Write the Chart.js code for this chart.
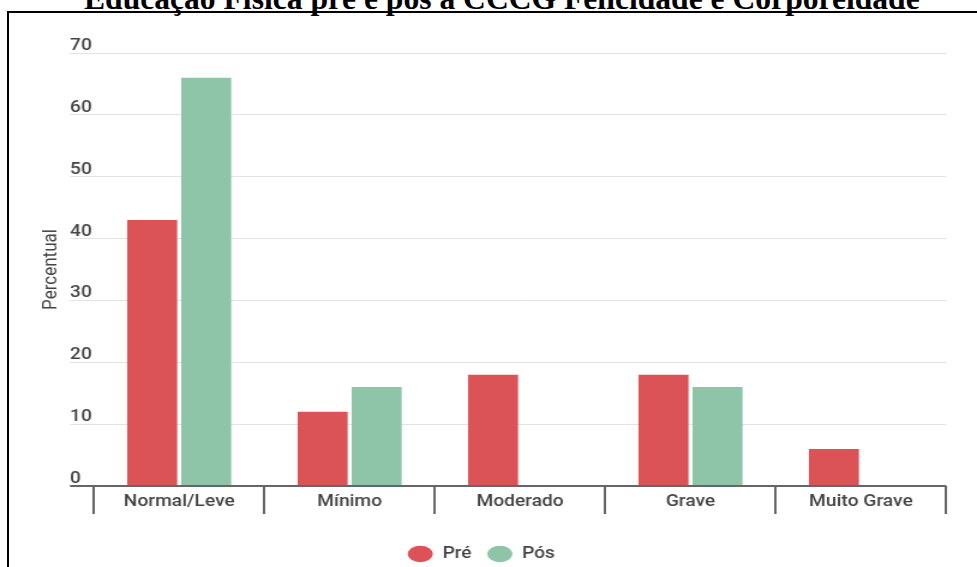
<!DOCTYPE html>
<html>
<head>
<meta charset="utf-8">
<script src="https://cdn.jsdelivr.net/npm/chart.js@4/dist/chart.umd.min.js"></script>
<style>
  html, body { margin: 0; padding: 0; background: #fff; overflow: hidden; }
  #page { position: relative; width: 977px; height: 567px; overflow: hidden; }
  #grafico { position: absolute; left: 0; top: 0; }
  #moldura { position: absolute; left: 7px; top: 11px; width: 1000px; height: 600px;
             border-left: 2px solid #000; border-top: 2px solid #000; pointer-events: none; }
  #titulo { position: absolute; left: 84px; top: -17px; white-space: nowrap;
            font: bold 31.6px "Liberation Serif", "Times New Roman", serif; line-height: 31.6px; color: #000; }
</style>
</head>
<body>
<div id="page">
  <div id="titulo">Educação Física pré e pós a CCCG Felicidade e Corporeidade</div>
  <!-- a imagem original está esticada na horizontal: desenha em 814px e estica para 977px -->
  <canvas id="grafico" width="814" height="567" style="width:977px;height:567px"></canvas>
  <div id="moldura"></div>
</div>
<script>
// Dados do gráfico
const categorias = ['Normal/Leve', 'Mínimo', 'Moderado', 'Grave', 'Muito Grave'];
const valoresPre = [43, 12, 18, 18, 6];
const valoresPos = [66, 16, 0, 16, 0];
const nomesSeries = ['Pré', 'Pós'];
const coresSeries = ['#db5357', '#8ec5a9'];
const eixoY = { min: 0, max: 70, passo: 10, titulo: 'Percentual' };

Chart.defaults.font.family = 'Roboto, "Noto Sans", sans-serif';
Chart.defaults.color = '#444';

const corEixo = '#666';
const corGrade = '#e2e2e2';

const ctx = document.getElementById('grafico').getContext('2d');
new Chart(ctx, {
    type: 'bar',
    data: {
        labels: categorias,
        datasets: [
            { label: nomesSeries[0], data: valoresPre, backgroundColor: coresSeries[0], borderWidth: 0 },
            { label: nomesSeries[1], data: valoresPos, backgroundColor: coresSeries[1], borderWidth: 0 }
        ]
    },
    options: {
        responsive: false,
        devicePixelRatio: 1,
        animation: false,
        categoryPercentage: 0.634,
        barPercentage: 0.926,
        layout: { padding: { left: 13.7, right: 25.7, top: 53, bottom: -5 } },
        scales: {
            x: {
                border: { display: false },
                grid: {
                    offset: true,
                    drawOnChartArea: false,
                    drawTicks: true,
                    tickLength: 28,
                    color: corEixo,
                    lineWidth: 2
                },
                ticks: {
                    padding: -22,
                    autoSkip: false,
                    maxRotation: 0,
                    color: '#444',
                    font: { size: 16, weight: '500' }
                },
                afterFit: scale => { scale.height = 47; }
            },
            y: {
                min: eixoY.min,
                max: eixoY.max,
                border: { display: false },
                grid: {
                    drawTicks: true,
                    tickLength: 20,
                    color: c => (c.tick && c.tick.value === 0 ? corEixo : corGrade),
                    lineWidth: c => (c.tick && c.tick.value === 0 ? 2 : 1)
                },
                ticks: {
                    stepSize: eixoY.passo,
                    mirror: true,
                    padding: -20,
                    labelOffset: -7,
                    color: '#444',
                    font: { size: 16, weight: '500' }
                },
                title: {
                    display: true,
                    text: eixoY.titulo,
                    color: '#444',
                    padding: { top: 18.5, bottom: 0 },
                    font: { family: '"Liberation Sans Narrow", Roboto, sans-serif', size: 17, weight: '400' }
                },
                afterFit: scale => { scale.width = 64.6; }
            }
        },
        plugins: {
            legend: {
                position: 'bottom',
                labels: {
                    usePointStyle: true,
                    pointStyle: 'circle',
                    boxHeight: 11.5,
                    pointStyleWidth: 21,
                    padding: 13,
                    color: '#444',
                    font: { size: 16, weight: '500' }
                }
            },
            tooltip: { enabled: false }
        }
    }
});
</script>
</body>
</html>
